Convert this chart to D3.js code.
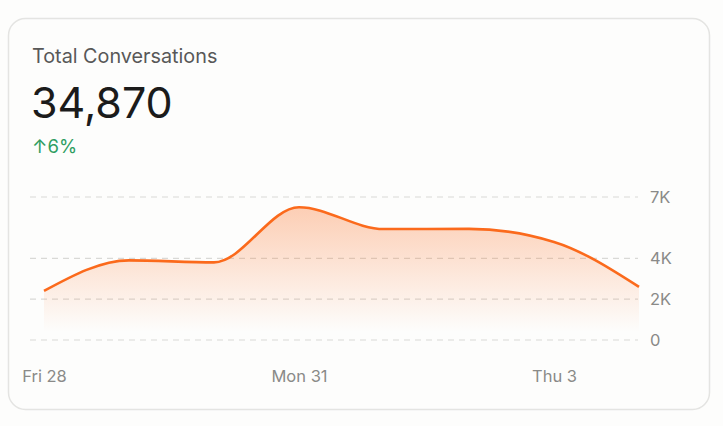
<!DOCTYPE html>
<html><head><meta charset="utf-8">
<script src="https://cdn.jsdelivr.net/npm/d3@7"></script>
<style>
html,body{margin:0;padding:0;background:#fdfdfc;}
svg{display:block;font-family:Inter,"Noto Sans",sans-serif;}
</style></head>
<body>
<svg id="c" width="723" height="426"></svg>
<script>
const days = ["Fri 28","Sat 29","Sun 30","Mon 31","Tue 1","Wed 2","Thu 3","Fri 4"];
const conversations = [2400, 3900, 3800, 6500, 5430, 5440, 4800, 2600];
const xTickLabels = ["Fri 28","Mon 31","Thu 3"];
const yTickValues = [0, 2000, 4000, 7000];
const title = "Total Conversations";
const total = "34,870";
const change = "↑6%";

const svg = d3.select("#c");
svg.append("rect").attr("x",8.5).attr("y",18.5).attr("width",701).attr("height",391)
  .attr("rx",17).attr("fill","#fdfdfc").attr("stroke","#e4e4e2").attr("stroke-width",1.5);

svg.append("text").attr("x",32).attr("y",63).attr("font-size",19.8).attr("fill","#585858")
  .text(title);
svg.append("text").attr("x",31).attr("y",118).attr("font-size",43).attr("fill","#1b1b1b")
  .attr("font-weight",400).text(total);
svg.append("text").attr("x",32).attr("y",153).attr("font-size",18.5).attr("fill","#2f9e62")
  .text(change);

const x = d3.scalePoint().domain(days).range([44,639]);
const y = d3.scaleLinear().domain([0,7000]).range([340,197]);

const defs = svg.append("defs");
const g = defs.append("linearGradient").attr("id","fill")
  .attr("gradientUnits","userSpaceOnUse").attr("x1",0).attr("x2",0).attr("y1",y(6500)).attr("y2",332);
g.append("stop").attr("offset",0).attr("stop-color","#fb6a1c").attr("stop-opacity",0.32);
g.append("stop").attr("offset",1).attr("stop-color","#fb6a1c").attr("stop-opacity",0);

// grid
svg.append("g").selectAll("line").data(yTickValues).join("line")
  .attr("x1",30).attr("x2",638).attr("y1",d=>y(d)).attr("y2",d=>y(d))
  .attr("stroke","#d9d9d6").attr("stroke-width",1.2).attr("stroke-dasharray","6,5");

const idx = d3.range(days.length);
const area = d3.area().x(i=>x(days[i])).y0(y(0)).y1(i=>y(conversations[i])).curve(d3.curveMonotoneX);
const line = d3.line().x(i=>x(days[i])).y(i=>y(conversations[i])).curve(d3.curveMonotoneX);
svg.append("path").datum(idx).attr("d",area).attr("fill","url(#fill)");
svg.append("path").datum(idx).attr("d",line).attr("fill","none").attr("stroke","#fb6a1c")
  .attr("stroke-width",2.6).attr("stroke-linejoin","round");

// y axis
const yAxis = d3.axisRight(y).tickValues(yTickValues).tickSize(0).tickPadding(0)
  .tickFormat(d=> d===0 ? "0" : (d/1000)+"K");
const ya = svg.append("g").attr("transform","translate(650,0)").call(yAxis);
ya.select(".domain").remove();
ya.selectAll("text").attr("font-size",16.5).attr("fill","#8a8a88").attr("font-family","Inter,'Noto Sans',sans-serif");

// x axis
const xAxis = d3.axisBottom(x).tickValues(xTickLabels).tickSize(0).tickPadding(0);
const xa = svg.append("g").attr("transform","translate(0,370)").call(xAxis);
xa.select(".domain").remove();
xa.selectAll("text").attr("font-size",16.5).attr("fill","#8a8a88").attr("dy","0.71em").attr("font-family","Inter,'Noto Sans',sans-serif");
</script>
</body></html>
